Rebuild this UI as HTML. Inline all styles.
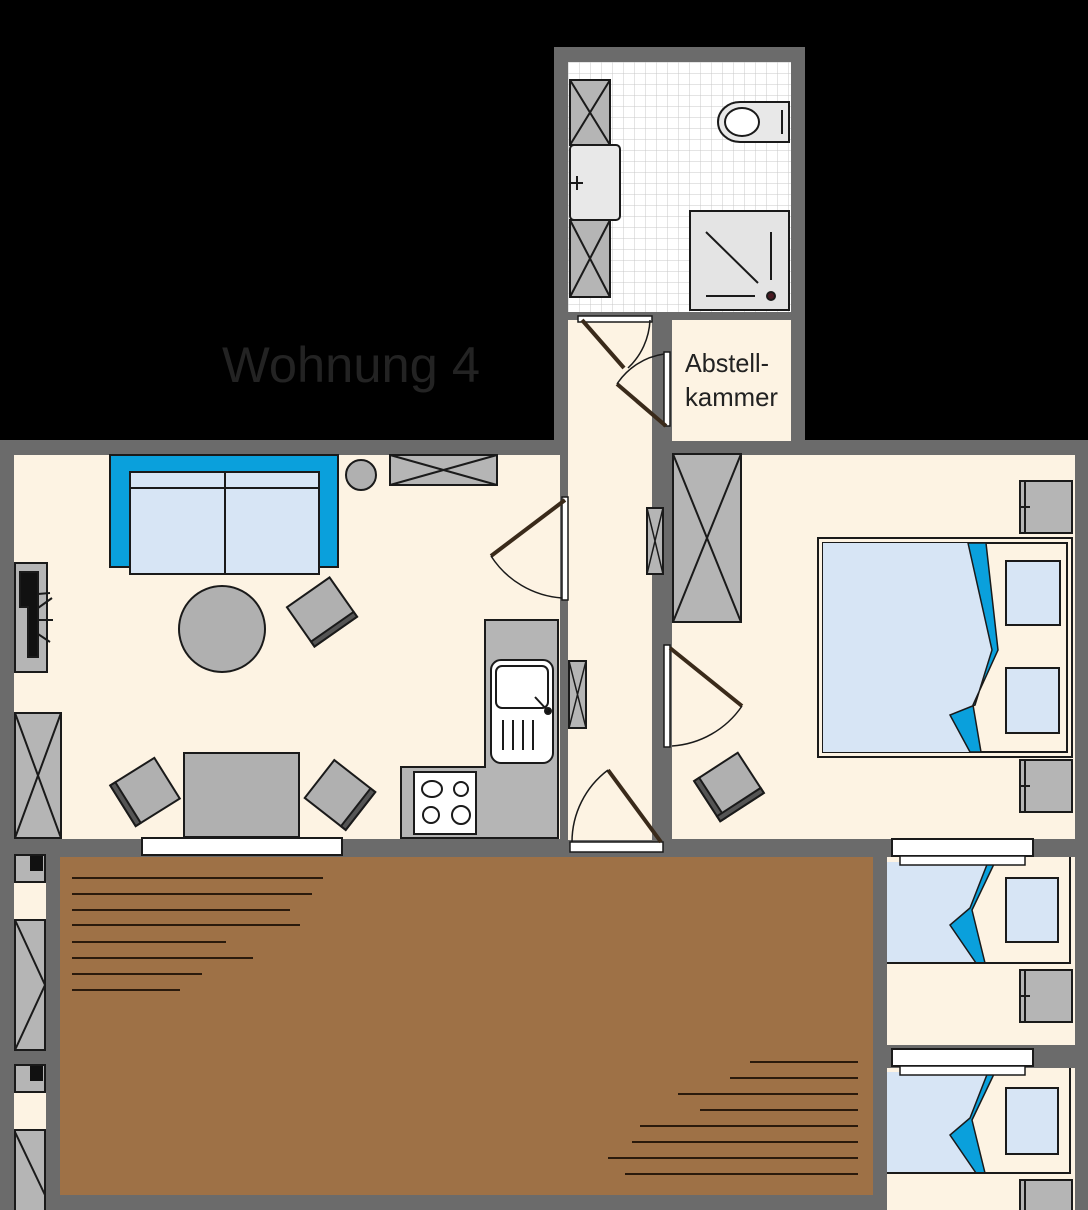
<!DOCTYPE html>
<html><head><meta charset="utf-8"><style>
html,body{margin:0;padding:0;background:#000;}
svg{display:block}
</style></head><body>
<svg width="1088" height="1210" viewBox="0 0 1088 1210" xmlns="http://www.w3.org/2000/svg">
<defs>
<pattern id="tile" width="11" height="11" patternUnits="userSpaceOnUse" x="568" y="62">
<rect width="11" height="11" fill="#fff"/>
<path d="M0 0H11M0 0V11" stroke="#c8c8c8" stroke-width="1"/>
</pattern>
</defs>
<rect width="1088" height="1210" fill="#000"/>
<!-- walls -->
<rect x="554" y="47" width="251" height="410" fill="#6b6b6b"/>
<rect x="0" y="440" width="1088" height="770" fill="#6b6b6b"/>
<!-- bathroom -->
<rect x="568" y="62" width="223" height="250" fill="url(#tile)"/>
<!-- cream rooms -->
<g fill="#fdf3e3">
<rect x="568" y="320" width="84" height="520"/>
<rect x="672" y="320" width="119" height="121"/>
<rect x="14" y="455" width="546" height="384"/>
<rect x="672" y="455" width="403" height="384"/>
<rect x="887" y="857" width="188" height="188"/>
<rect x="887" y="1068" width="188" height="142"/>
<rect x="14" y="882" width="32" height="38"/>
<rect x="14" y="1092" width="32" height="38"/>
</g>
<!-- balcony -->
<rect x="60" y="857" width="813" height="338" fill="#9e7146"/>
<g stroke="#2a1a0c" stroke-width="2">
<line x1="72" y1="878" x2="323" y2="878"/><line x1="72" y1="894" x2="312" y2="894"/>
<line x1="72" y1="910" x2="290" y2="910"/><line x1="72" y1="925" x2="300" y2="925"/>
<line x1="72" y1="942" x2="226" y2="942"/><line x1="72" y1="958" x2="253" y2="958"/>
<line x1="72" y1="974" x2="202" y2="974"/><line x1="72" y1="990" x2="180" y2="990"/>
<line x1="750" y1="1062" x2="858" y2="1062"/><line x1="730" y1="1078" x2="858" y2="1078"/>
<line x1="678" y1="1094" x2="858" y2="1094"/><line x1="700" y1="1110" x2="858" y2="1110"/>
<line x1="640" y1="1126" x2="858" y2="1126"/><line x1="632" y1="1142" x2="858" y2="1142"/>
<line x1="608" y1="1158" x2="858" y2="1158"/><line x1="625" y1="1174" x2="858" y2="1174"/>
</g>
<!-- title -->
<text x="222" y="382" font-family="Liberation Sans, sans-serif" font-size="50" fill="#232323" textLength="258" lengthAdjust="spacingAndGlyphs">Wohnung 4</text>
<text x="685" y="372" font-family="Liberation Sans, sans-serif" font-size="26" fill="#222" textLength="84" lengthAdjust="spacingAndGlyphs">Abstell-</text>
<text x="685" y="406" font-family="Liberation Sans, sans-serif" font-size="26" fill="#222" textLength="93" lengthAdjust="spacingAndGlyphs">kammer</text>

<g stroke="#1a1a1a" stroke-width="2">
<!-- bathroom fixtures -->
<rect x="570" y="80" width="40" height="65" fill="#b5b5b5"/><path d="M570 80L610 145M610 80L570 145" fill="none"/>
<rect x="570" y="220" width="40" height="77" fill="#b5b5b5"/><path d="M570 220L610 297M610 220L570 297" fill="none"/>
<rect x="570" y="145" width="50" height="75" rx="4" fill="#e8e8e8"/>
<path d="M569 183h14M577 176v14" stroke-width="2"/>
<path d="M789 102H740a22 20 0 0 0 0 40H789Z" fill="#e8e8e8"/>
<ellipse cx="742" cy="122" rx="17" ry="14" fill="#fff"/>
<line x1="782" y1="110" x2="782" y2="134"/>
<rect x="690" y="211" width="99" height="99" fill="#e4e4e4"/>
<path d="M706 232L758 283M771 232V280M706 296H755" fill="none"/>
<circle cx="771" cy="296" r="4" fill="#4a1a22"/>

<!-- doors -->
<rect x="578" y="316" width="74" height="6" fill="#fff" stroke-width="1.5"/>
<line x1="582" y1="320" x2="624" y2="368" stroke="#3a2a1a" stroke-width="4"/>
<path d="M650 320A70 70 0 0 1 628 368" fill="none" stroke-width="1.5"/>
<rect x="664" y="352" width="6" height="74" fill="#fff" stroke-width="1.5"/>
<line x1="666" y1="426" x2="617" y2="384" stroke="#3a2a1a" stroke-width="4"/>
<path d="M617 384A68 68 0 0 1 664 354" fill="none" stroke-width="1.5"/>
<rect x="562" y="497" width="6" height="103" fill="#fff" stroke-width="1.5"/>
<line x1="565" y1="500" x2="491" y2="556" stroke="#3a2a1a" stroke-width="4"/>
<path d="M491 556A92 92 0 0 0 562 598" fill="none" stroke-width="1.5"/>
<rect x="664" y="645" width="6" height="102" fill="#fff" stroke-width="1.5"/>
<line x1="670" y1="648" x2="742" y2="706" stroke="#3a2a1a" stroke-width="4"/>
<path d="M742 706A92 92 0 0 1 672 746" fill="none" stroke-width="1.5"/>
<rect x="570" y="842" width="93" height="10" fill="#fff" stroke-width="1.5"/>
<line x1="661" y1="842" x2="608" y2="770" stroke="#3a2a1a" stroke-width="4"/>
<path d="M608 770A90 90 0 0 0 572 842" fill="none" stroke-width="1.5"/>

<!-- small hall cabinets -->
<rect x="647" y="508" width="16" height="66" fill="#b5b5b5"/><path d="M647 508L663 574M663 508L647 574" fill="none" stroke-width="1.5"/>
<rect x="569" y="661" width="17" height="67" fill="#b5b5b5"/><path d="M569 661L586 728M586 661L569 728" fill="none" stroke-width="1.5"/>

<!-- living -->
<rect x="110" y="455" width="228" height="112" fill="#0aa0dc"/>
<rect x="130" y="472" width="189" height="102" fill="#d7e5f5"/>
<path d="M130 488H319M225 472V574" fill="none"/>
<circle cx="361" cy="475" r="15" fill="#b0b0b0"/>
<rect x="390" y="455" width="107" height="30" fill="#b5b5b5"/><path d="M390 455L497 485M497 455L390 485" fill="none"/>
<rect x="15" y="563" width="32" height="109" fill="#b5b5b5"/>
<path d="M28 572h10v25h0v60h-10v-50h-8v-35h8z" fill="#111"/>
<path d="M38 594L50 593M38 620L53 620M38 634L50 642M38 608L52 598" fill="none"/>
<circle cx="222" cy="629" r="43" fill="#b0b0b0"/>
<rect x="15" y="713" width="46" height="125" fill="#b5b5b5"/><path d="M15 713L61 838M61 713L15 838" fill="none"/>
<rect x="184" y="753" width="115" height="84" fill="#b0b0b0"/>
<g transform="translate(322,612) rotate(-35)"><rect x="-26" y="-24" width="52" height="48" fill="#b0b0b0"/><rect x="-26" y="18" width="52" height="6" fill="#555"/></g>
<g transform="translate(145,792) rotate(-32)"><rect x="-26" y="-24" width="52" height="48" fill="#b0b0b0"/><rect x="-26" y="-24" width="6" height="48" fill="#555"/></g>
<g transform="translate(340,795) rotate(38)"><rect x="-26" y="-24" width="52" height="48" fill="#b0b0b0"/><rect x="20" y="-24" width="6" height="48" fill="#555"/></g>
<rect x="142" y="838" width="200" height="17" fill="#fff" stroke-width="2"/>
<!-- kitchen -->
<path d="M485 620H558V838H401V767H485Z" fill="#b5b5b5"/>
<rect x="491" y="660" width="62" height="103" rx="10" fill="#fff"/>
<rect x="496" y="666" width="52" height="42" rx="6" fill="#fff"/>
<path d="M503 720V750M513 720V750M523 720V750M533 720V750" fill="none"/>
<circle cx="548" cy="711" r="3" fill="#111"/><line x1="535" y1="697" x2="548" y2="711"/>
<rect x="414" y="772" width="62" height="62" fill="#fff"/>
<ellipse cx="432" cy="789" rx="10" ry="8" fill="#fff"/><circle cx="461" cy="789" r="7" fill="#fff"/>
<circle cx="431" cy="815" r="8" fill="#fff"/><circle cx="461" cy="815" r="9" fill="#fff"/>

<!-- bedroom -->
<rect x="673" y="454" width="68" height="168" fill="#b5b5b5"/><path d="M673 454L741 622M741 454L673 622" fill="none"/>
<rect x="818" y="538" width="254" height="219" fill="#fdf3e3" stroke-width="2"/>
<rect x="823" y="543" width="244" height="209" fill="none" stroke-width="2"/>
<path d="M823 543H968L992 650L975 705L950 715L970 752H823Z" fill="#d7e5f5" stroke="none"/>
<path d="M968 543H986L998 650L973 705L981 752H970L950 715L975 705L992 650Z" fill="#0aa0dc" stroke-width="1.5"/>
<rect x="1006" y="561" width="54" height="64" fill="#d7e5f5"/>
<rect x="1006" y="668" width="53" height="65" fill="#d7e5f5"/>
<rect x="1020" y="481" width="52" height="52" fill="#b5b5b5"/><path d="M1025 481V533M1020 507h10" fill="none"/>
<rect x="1020" y="760" width="52" height="52" fill="#b5b5b5"/><path d="M1025 760V812M1020 786h10" fill="none"/>
<g transform="translate(729,787) rotate(-33)"><rect x="-26" y="-24" width="52" height="48" fill="#b0b0b0"/><rect x="-26" y="-24" width="6" height="48" fill="#555"/><rect x="-26" y="18" width="52" height="6" fill="#555"/></g>
<rect x="892" y="839" width="141" height="17" fill="#fff" stroke-width="2"/>

<!-- lower right beds -->
<rect x="887" y="857" width="186" height="106" fill="#fdf3e3" stroke="none"/>
<path d="M887 862H993L972 905L950 925L975 963H887Z" fill="#d7e5f5" stroke="none"/>
<path d="M988 862H995L972 910L985 963H976L950 925L970 908Z" fill="#0aa0dc" stroke-width="1.5"/>
<path d="M887 963H1070V857" fill="none" stroke-width="2"/>
<rect x="1006" y="878" width="52" height="64" fill="#d7e5f5"/>
<rect x="892" y="839" width="141" height="17" fill="#fff" stroke-width="2"/>
<rect x="900" y="856" width="125" height="9" fill="#fff" stroke-width="1.5"/>
<rect x="1020" y="970" width="52" height="52" fill="#b5b5b5"/><path d="M1025 970V1022M1020 996h10" fill="none"/>
<path d="M887 1072H993L972 1115L950 1135L975 1173H887Z" fill="#d7e5f5" stroke="none"/>
<path d="M988 1072H995L972 1120L985 1173H976L950 1135L970 1118Z" fill="#0aa0dc" stroke-width="1.5"/>
<path d="M887 1173H1070V1068" fill="none" stroke-width="2"/>
<rect x="1006" y="1088" width="52" height="66" fill="#d7e5f5"/>
<rect x="892" y="1049" width="141" height="17" fill="#fff" stroke-width="2"/>
<rect x="900" y="1066" width="125" height="9" fill="#fff" stroke-width="1.5"/>
<rect x="1020" y="1180" width="52" height="40" fill="#b5b5b5"/><path d="M1025 1180V1210" fill="none"/>

<!-- left strip -->
<rect x="15" y="855" width="30" height="27" fill="#b5b5b5"/><rect x="30" y="856" width="13" height="15" fill="#111" stroke="none"/>
<rect x="15" y="920" width="30" height="130" fill="#b5b5b5"/><path d="M15 920L45 985L15 1050" fill="none"/>
<rect x="15" y="1065" width="30" height="27" fill="#b5b5b5"/><rect x="30" y="1066" width="13" height="15" fill="#111" stroke="none"/>
<rect x="15" y="1130" width="30" height="85" fill="#b5b5b5"/><path d="M15 1132L45 1195" fill="none"/>
</g>
</svg>
</body></html>
